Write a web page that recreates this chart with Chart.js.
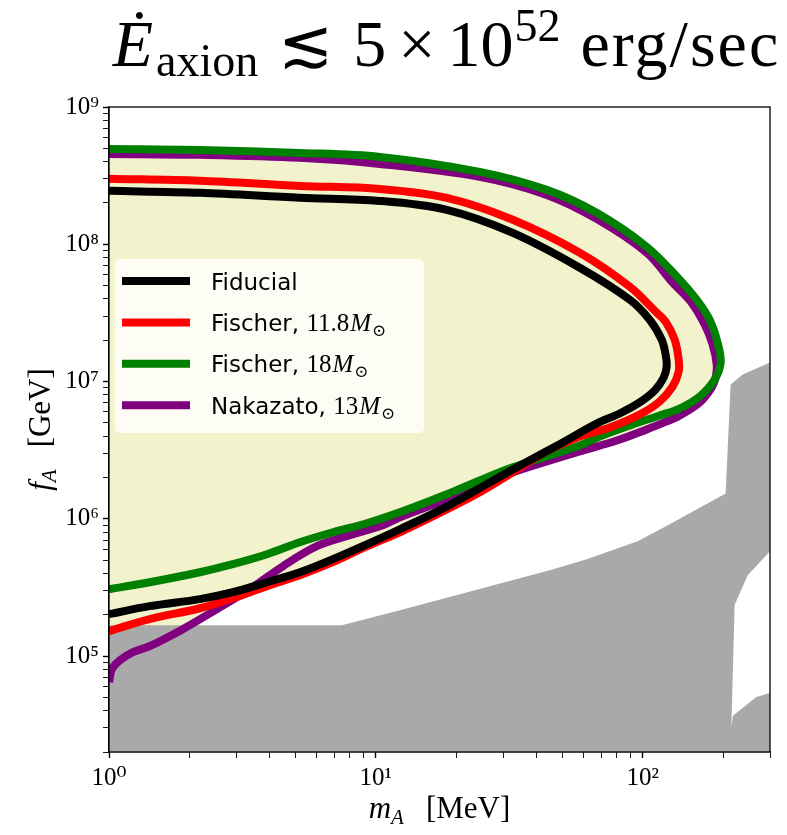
<!DOCTYPE html>
<html>
<head>
<meta charset="utf-8">
<script src="https://cdn.jsdelivr.net/npm/chart.js@4.4.4/dist/chart.umd.min.js"></script>
<style>
  html, body { margin: 0; padding: 0; background: #fff; }
</style>
</head>
<body>
<canvas id="chart" width="787" height="835"></canvas>
<script>
// Supernova axion-emission bound in the (m_A, f_A) plane, log-log.
// m_A in MeV, f_A in GeV.

const fiducialMA = [1, 2.19, 5.19, 10.35, 18.45, 32.6, 58.1, 89.4, 106.2, 117.8, 121.9, 123.0, 119.9, 110.9, 97.4, 82.0, 67.2, 50.2, 32.6, 18.45, 12.3, 9.25, 6.9, 5.19, 3.91, 2.91, 2.19, 1.42, 1];
const fiducialFA = [2.45e8, 2.37e8, 2.18e8, 2.07e8, 1.78e8, 1.21e8, 6.75e7, 3.95e7, 2.82e7, 2.02e7, 1.57e7, 1.29e7, 1.07e7, 8.6e6, 7.04e6, 5.85e6, 4.95e6, 3.6e6, 2.29e6, 1.23e6, 8.39e5, 6.52e5, 5.08e5, 4.08e5, 3.45e5, 2.92e5, 2.6e5, 2.31e5, 2.02e5];

const fischer118MA = [1, 2.19, 5.19, 10.35, 18.45, 32.6, 58.1, 89.4, 112.8, 121.9, 131.8, 136.4, 136.4, 129.5, 115.8, 97.4, 75.2, 58.1, 43.7, 32.6, 24.5, 18.45, 12.3, 9.25, 6.9, 5.19, 3.91, 2.91, 2.19, 1.42, 1];
const fischer118FA = [3.0e8, 2.9e8, 2.66e8, 2.53e8, 2.18e8, 1.51e8, 8.68e7, 4.91e7, 3.18e7, 2.73e7, 2.02e7, 1.445e7, 1.18e7, 9.2e6, 7.15e6, 5.75e6, 4.63e6, 3.98e6, 3.1e6, 2.18e6, 1.56e6, 1.17e6, 7.98e5, 6.31e5, 4.83e5, 3.88e5, 3.23e5, 2.64e5, 2.23e5, 1.86e5, 1.52e5];

const fischer18MA = [1, 2.19, 5.19, 10.35, 24.5, 43.7, 67.2, 103.5, 137.6, 159.3, 178.2, 190.9, 196.0, 186.1, 163.5, 137.6, 115.8, 91.7, 69.0, 58.1, 43.7, 32.6, 24.5, 18.45, 12.3, 9.25, 6.9, 5.19, 3.91, 2.91, 2.19, 1.42, 1];
const fischer18FA = [4.95e8, 4.87e8, 4.63e8, 4.33e8, 3.37e8, 2.49e8, 1.695e8, 9.59e7, 5.52e7, 3.95e7, 2.82e7, 1.92e7, 1.375e7, 1.034e7, 7.78e6, 6.36e6, 5.66e6, 4.87e6, 3.98e6, 3.42e6, 2.85e6, 2.37e6, 1.905e6, 1.51e6, 1.115e6, 9.28e5, 7.98e5, 6.75e5, 5.52e5, 4.67e5, 4.08e5, 3.45e5, 3.07e5];

const nakazatoMA = [1, 2.19, 5.19, 10.35, 24.5, 43.7, 67.2, 103.5, 129.5, 152.6, 170.7, 182.9, 189.4, 187.7, 181.3, 163.5, 137.6, 123.0, 103.5, 80.0, 58.1, 43.7, 32.6, 18.45, 12.3, 10.62, 7.99, 6.01, 4.48, 3.37, 2.54, 1.89, 1.42, 1.23, 1.10, 1.026, 1];
const nakazatoFA = [4.55e8, 4.48e8, 4.26e8, 3.85e8, 3.1e8, 2.29e8, 1.53e8, 8.68e7, 5.25e7, 3.75e7, 2.6e7, 1.86e7, 1.33e7, 1.07e7, 9.05e6, 7.04e6, 5.66e6, 5.12e6, 4.48e6, 3.72e6, 3.1e6, 2.62e6, 2.18e6, 1.387e6, 1.025e6, 8.97e5, 7.59e5, 6.31e5, 4.51e5, 3.07e5, 2.2e5, 1.57e5, 1.18e5, 1.07e5, 9.35e4, 8.04e4, 6.47e4];

// grey excluded region, traced as one closed outline (notch at the right edge included)
const excludedMA = [1, 1, 7.46, 12.3, 44.8, 61.7, 95.8, 126.2, 204.6, 213.6, 237, 300, 300, 247.4, 221.1, 214.9, 217.9, 266.6, 300, 300];
const excludedFA = [2e4, 1.68e5, 1.68e5, 2.16e5, 4.22e5, 5.08e5, 6.86e5, 9.12e5, 1.53e6, 9.5e6, 1.124e7, 1.375e7, 5.8e5, 3.88e5, 2.35e5, 3.05e4, 3.68e4, 5.03e4, 5.38e4, 2e4];

const seriesNames = ['Fiducial', 'Fischer, ', 'Fischer, ', 'Nakazato, '];
const seriesMasses = ['', '11.8', '18', '13'];
const seriesColors = ['#000000', '#ff0000', '#008000', '#800080'];

const xDecades = [1, 10, 100];
const yDecades = [1e4, 1e5, 1e6, 1e7, 1e8];
const X_MIN = 1, X_MAX = 300, Y_MIN = 2e4, Y_MAX = 1e9;

const SERIF = "'Liberation Serif', 'DejaVu Serif', serif";
const SANS = "'DejaVu Sans', sans-serif";
const CONTOUR_FILL = 'rgb(242,242,204)';
const EXCLUDED_GREY = '#a9a9a9';
const SUP = '⁰¹²³⁴⁵⁶⁷⁸⁹';

function toPoints(xs, ys) {
  return xs.map((x, i) => ({ x, y: ys[i] }));
}

// every 1..9 multiple of each decade, clipped to the axis range
function logTicks(decades, min, max) {
  const out = [];
  decades.forEach(d => {
    for (let m = 1; m <= 9; m++) {
      const v = d * m;
      if (v >= min * 0.999 && v <= max * 1.001) out.push({ value: v });
    }
  });
  if (max >= decades[decades.length - 1] * 10) out.push({ value: decades[decades.length - 1] * 10 });
  return out;
}

function isDecade(v) {
  const l = Math.log10(v);
  return Math.abs(l - Math.round(l)) < 1e-9;
}

function decadeLabel(v) {
  if (!isDecade(v)) return '';
  return '10' + String(Math.round(Math.log10(v))).split('').map(c => SUP[+c]).join('');
}

function contour(i, xs, ys) {
  return {
    label: seriesNames[i] + seriesMasses[i],
    data: toPoints(xs, ys),
    showLine: true,
    borderColor: seriesColors[i],
    backgroundColor: CONTOUR_FILL,
    borderWidth: 8,
    borderJoinStyle: 'round',
    fill: 'shape',
    tension: 0.35,
    pointRadius: 0,
    pointHoverRadius: 0
  };
}

// runs of text with their own font and baseline shift, drawn left to right
function runsWidth(ctx, runs) {
  let w = 0;
  runs.forEach(r => {
    ctx.font = r.font;
    ctx.letterSpacing = r.spacing || '0px';
    w += ctx.measureText(r.text).width + (r.gap || 0);
  });
  ctx.letterSpacing = '0px';
  return w;
}

function drawRuns(ctx, runs, x, y) {
  let cx = x;
  runs.forEach(r => {
    ctx.font = r.font;
    ctx.letterSpacing = r.spacing || '0px';
    ctx.fillText(r.text, cx, y + (r.dy || 0));
    cx += ctx.measureText(r.text).width + (r.gap || 0);
  });
  ctx.letterSpacing = '0px';
}

const textPlugin = {
  id: 'figureText',
  afterDatasetsDraw(chart) {
    const { ctx, chartArea: a } = chart;
    ctx.save();
    // frame on all four sides
    ctx.strokeStyle = '#000';
    ctx.lineWidth = 1.3;
    ctx.strokeRect(a.left, a.top, a.right - a.left, a.bottom - a.top);

    // legend
    const lx = 115, ly = 259, lw = 309, lh = 174;
    ctx.fillStyle = 'rgba(255,255,255,0.8)';
    ctx.beginPath();
    ctx.roundRect(lx, ly, lw, lh, 5);
    ctx.fill();
    ctx.textBaseline = 'alphabetic';
    ctx.textAlign = 'left';
    seriesNames.forEach((name, i) => {
      const y = 281 + i * 41.4;
      ctx.strokeStyle = seriesColors[i];
      ctx.lineWidth = 8;
      ctx.lineCap = 'butt';
      ctx.beginPath();
      ctx.moveTo(122, y);
      ctx.lineTo(190, y);
      ctx.stroke();
      ctx.fillStyle = '#000';
      const runs = [{ text: name, font: `23px ${SANS}` }];
      if (seriesMasses[i]) {
        runs.push({ text: seriesMasses[i], font: `25px ${SERIF}`, gap: 1 });
        runs.push({ text: 'M', font: `italic 25px ${SERIF}`, gap: 1 });
        runs.push({ text: '⊙', font: `17px ${SERIF}`, dy: 5 });
      }
      drawRuns(ctx, runs, 211, y + 8.5);
    });
    ctx.restore();
  },
  afterDraw(chart) {
    const { ctx, chartArea: a } = chart;
    const cx = (a.left + a.right) / 2;
    const cy = (a.top + a.bottom) / 2;
    ctx.save();
    ctx.fillStyle = '#000';
    ctx.textBaseline = 'alphabetic';
    ctx.textAlign = 'left';

    const title = [
      { text: 'Ė', font: `italic 66px ${SERIF}`, gap: 3 },
      { text: 'axion', font: `46px ${SERIF}`, dy: 10, gap: 20 },
      { text: '≲', font: `66px ${SERIF}`, gap: 20 },
      { text: '5', font: `66px ${SERIF}`, gap: 12 },
      { text: '×', font: `66px ${SERIF}`, gap: 12 },
      { text: '10', font: `66px ${SERIF}`, gap: 1 },
      { text: '52', font: `46px ${SERIF}`, dy: -25, gap: 20 },
      { text: 'erg/sec', font: `66px ${SERIF}`, spacing: '2px' }
    ];
    drawRuns(ctx, title, cx + 7 - runsWidth(ctx, title) / 2, 66);

    const xLabel = [
      { text: 'm', font: `italic 31px ${SERIF}` },
      { text: 'A', font: `italic 21px ${SERIF}`, dy: 6, gap: 22 },
      { text: '[MeV]', font: `31px ${SERIF}` }
    ];
    drawRuns(ctx, xLabel, cx - runsWidth(ctx, xLabel) / 2, 818);

    const yLabel = [
      { text: 'f', font: `italic 31px ${SERIF}` },
      { text: 'A', font: `italic 21px ${SERIF}`, dy: 6, gap: 22 },
      { text: '[GeV]', font: `31px ${SERIF}` }
    ];
    ctx.translate(50, cy);
    ctx.rotate(-Math.PI / 2);
    drawRuns(ctx, yLabel, -runsWidth(ctx, yLabel) / 2, 0);
    ctx.restore();
  }
};

function logAxis(min, max, decades, fitKey, fitSize) {
  return {
    type: 'logarithmic',
    min, max,
    afterBuildTicks: s => { s.ticks = logTicks(decades, min, max); },
    afterFit: s => { s[fitKey] = fitSize; },
    ticks: {
      autoSkip: false,
      maxRotation: 0,
      color: '#000',
      padding: fitKey === 'height' ? 5 : 4,
      font: { family: SERIF, size: 25 },
      callback: v => decadeLabel(v)
    },
    grid: {
      drawOnChartArea: false,
      drawTicks: true,
      tickLength: 6,
      tickColor: '#000',
      tickWidth: c => (c.tick && isDecade(c.tick.value) ? 1.4 : 0.9)
    },
    border: { display: true, color: '#000', width: 1.3 }
  };
}

new Chart(document.getElementById('chart'), {
  type: 'scatter',
  data: {
    datasets: [
      {
        label: 'excluded',
        data: toPoints(excludedMA, excludedFA),
        showLine: true,
        borderWidth: 0,
        borderColor: 'rgba(0,0,0,0)',
        backgroundColor: EXCLUDED_GREY,
        fill: 'shape',
        tension: 0,
        pointRadius: 0,
        pointHoverRadius: 0
      },
      contour(0, fiducialMA, fiducialFA),
      contour(1, fischer118MA, fischer118FA),
      contour(2, fischer18MA, fischer18FA),
      contour(3, nakazatoMA, nakazatoFA)
    ]
  },
  options: {
    responsive: false,
    animation: false,
    events: [],
    layout: { padding: { top: 107, right: 17, bottom: 0, left: 0 } },
    scales: {
      x: { ...logAxis(X_MIN, X_MAX, xDecades, 'height', 83), position: 'bottom' },
      y: { ...logAxis(Y_MIN, Y_MAX, yDecades, 'width', 109), position: 'left' }
    },
    plugins: {
      legend: { display: false },
      tooltip: { enabled: false },
      filler: { drawTime: 'beforeDatasetsDraw' }
    }
  },
  plugins: [textPlugin]
});
</script>
</body>
</html>
